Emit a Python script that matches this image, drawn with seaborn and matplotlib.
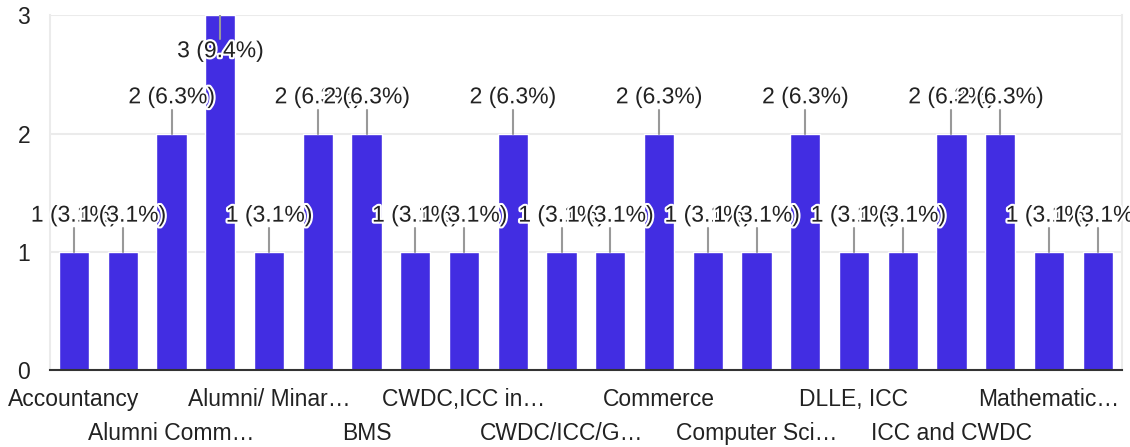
import numpy as np
import pandas as pd
import matplotlib
matplotlib.use("Agg")
import matplotlib.pyplot as plt
import matplotlib.patheffects as pe
import seaborn as sns

# Responses per department (bars left to right)
counts = [1, 1, 2, 3, 1, 2, 2, 1, 1, 2, 1, 1, 2, 1, 1, 2, 1, 1, 2, 2, 1, 1]
# only every second category label is shown on the axis
shown_labels = ["Accountancy", "Alumni Comm…", "Alumni/ Minar…", "BMS",
                "CWDC,ICC in…", "CWDC/ICC/G…", "Commerce", "Computer Sci…",
                "DLLE, ICC", "ICC and CWDC", "Mathematic…"]
y_ticks = [0, 1, 2, 3]

bar_color = "#422de2"
total = sum(counts)
fs = 16.5

df = pd.DataFrame({"pos": np.arange(len(counts)), "count": counts})

sns.set_style("white")
plt.rcParams["font.family"] = ["Liberation Sans", "DejaVu Sans"]

fig, ax = plt.subplots(figsize=(11.3, 4.47), dpi=100)
fig.subplots_adjust(left=0.044, right=0.993, top=0.966, bottom=0.172)

sns.barplot(data=df, x="pos", y="count", color=bar_color, saturation=1,
            width=0.62, ax=ax, zorder=3)

ax.set_xlim(-0.5, len(counts) - 0.5)
ax.set_ylim(0, 3)
ax.set_yticks(y_ticks)
ax.set_yticklabels([str(t) for t in y_ticks], fontsize=fs, color="#222222")
ax.yaxis.grid(True, color="#ebebeb", linewidth=1.5, zorder=0)
ax.set_axisbelow(True)

tick_pos = list(range(0, len(counts), 2))
tick_text = [lab if i % 2 == 0 else "\n" + lab for i, lab in enumerate(shown_labels)]
ax.set_xticks(tick_pos)
ax.set_xticklabels(tick_text, fontsize=fs, color="#222222", linespacing=1.6)
ax.tick_params(axis="y", length=0, pad=14)
ax.tick_params(axis="x", length=0, pad=13)
ax.set_xlabel("")
ax.set_ylabel("")

for side in ["left", "right", "top"]:
    ax.spines[side].set_color("#ebebeb")
    ax.spines[side].set_linewidth(1.5)
ax.spines["top"].set_visible(False)
ax.spines["bottom"].set_color("#333333")
ax.spines["bottom"].set_linewidth(1.5)
ax.spines["bottom"].set_zorder(4)

# value annotations with leader lines
halo = [pe.withStroke(linewidth=3, foreground="white")]
for i, c in enumerate(counts):
    label = f"{c} ({c / total * 100 + 1e-9:.1f}%)"
    if c >= 3:
        ax.plot([i, i], [c, c - 0.2], color="#999999", lw=1.5, zorder=4)
        ty = c - 0.3
    else:
        ax.plot([i, i], [c, c + 0.2], color="#999999", lw=1.5, zorder=4)
        ty = c + 0.31
    ax.text(i, ty, label, ha="center", va="center", fontsize=fs,
            color="#222222", path_effects=halo, zorder=5)

fig.savefig("out.png", dpi=100)
